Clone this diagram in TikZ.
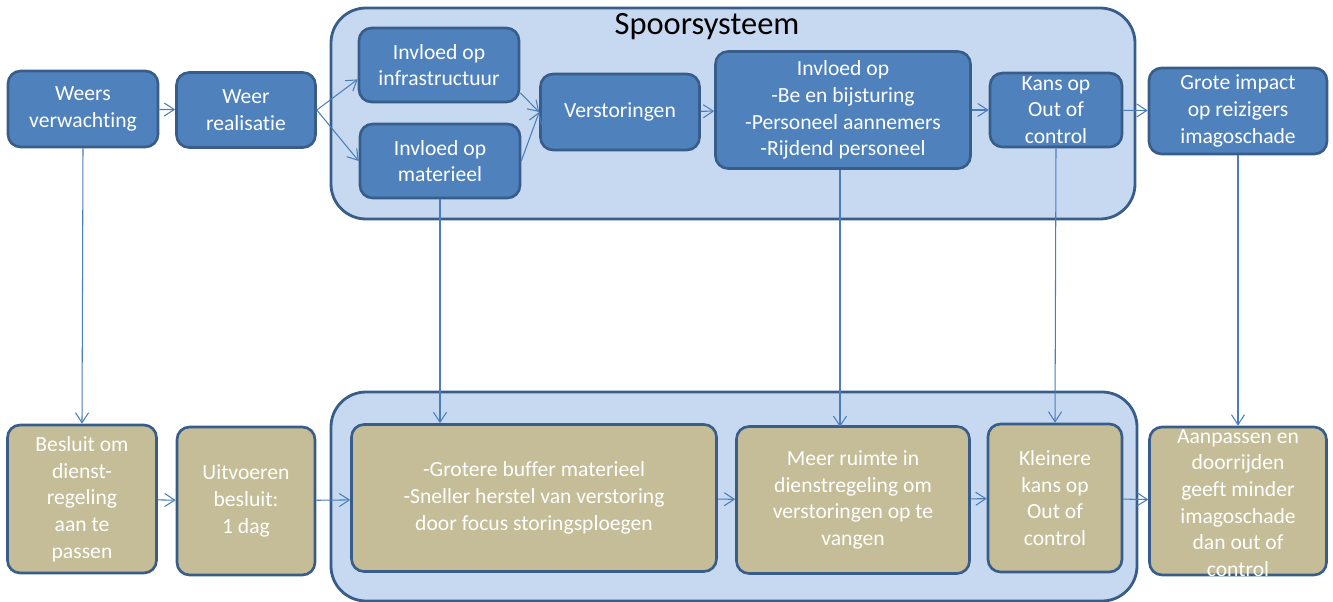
\documentclass[tikz,border=0pt]{standalone}
\usepackage{fontspec}
\setmainfont{Carlito}[Ligatures=NoCommon]
\usetikzlibrary{arrows.meta}

\definecolor{boxblue}{HTML}{4F81BD}
\definecolor{edgeblue}{HTML}{385D8A}
\definecolor{areablue}{HTML}{C6D9F1}
\definecolor{tanfill}{HTML}{C4BD97}
\definecolor{arrowblue}{HTML}{4A7EBB}

\tikzset{
  >={Straight Barb[length=2mm,width=2.6mm]},
  area/.style={draw=edgeblue, fill=areablue, line width=1.6pt, rounded corners=0.7cm},
  bluebox/.style={draw=edgeblue, fill=boxblue, line width=1.5pt, rounded corners=0.25cm,
    text=white, align=center, inner sep=1pt, font=\fontsize{12.3}{15.2}\selectfont},
  tanbox/.style={bluebox, fill=tanfill},
  flow/.style={->, draw=arrowblue, line width=0.6pt},
}

\begin{document}
\begin{tikzpicture}[x=0.02cm, y=-0.02cm]
  \useasboundingbox (0,0) rectangle (1333,602);

  % system areas
  \draw[area] (331,8) rectangle (1135,219);
  \draw[area] (331,392) rectangle (1137,601);
  \node[font=\fontsize{18.5}{22}\selectfont] (title) at (707,27) {Spoorsysteem};

  % top row
  \node[bluebox, minimum width=3cm, minimum height=1.52cm] (weers) at (83,109) {Weers\\verwachting};
  \node[bluebox, minimum width=2.78cm, minimum height=1.5cm] (real) at (246,110) {Weer\\realisatie};
  \node[bluebox, minimum width=3.2cm, minimum height=1.48cm] (infra) at (439,65) {Invloed op\\infrastructuur};
  \node[bluebox, minimum width=3.2cm, minimum height=1.48cm] (mat) at (440,161) {Invloed op\\materieel};
  \node[bluebox, minimum width=3.18cm, minimum height=1.52cm] (verst) at (620,112) {Verstoringen};
  \node[bluebox, minimum width=5.1cm, minimum height=2.34cm] (invl) at (843,110) {Invloed op\\-Be en bijsturing\\-Personeel aannemers\\-Rijdend personeel};
  \node[bluebox, minimum width=2.64cm, minimum height=1.48cm] (kans) at (1056,110) {Kans op\\Out of\\control};
  \node[bluebox, minimum width=3.56cm, minimum height=1.72cm] (grote) at (1238,111) {Grote impact\\op reizigers\\imagoschade};

  % bottom row
  \node[tanbox, minimum width=2.98cm, minimum height=2.96cm] (besl) at (82,499) {Besluit om\\dienst-\\regeling\\aan te\\passen};
  \node[tanbox, minimum width=2.76cm, minimum height=2.96cm] (uitv) at (246,501) {Uitvoeren\\besluit:\\1 dag};
  \node[tanbox, minimum width=7.3cm, minimum height=2.94cm] (buff) at (534,498) {-Grotere buffer materieel\\-Sneller herstel van verstoring\\door focus storingsploegen};
  \node[tanbox, minimum width=4.66cm, minimum height=2.94cm] (ruim) at (853,500) {Meer ruimte in\\dienstregeling om\\verstoringen op te\\vangen};
  \node[tanbox, minimum width=2.68cm, minimum height=2.96cm] (klein) at (1055,498) {Kleinere\\kans op\\Out of\\control};
  \node[tanbox, minimum width=3.54cm, minimum height=2.96cm] (aanp) at (1238,501) {};
  \node[text=white, align=center, font=\fontsize{12.3}{15.2}\selectfont] (aanptxt) at (1238,503) {Aanpassen en\\doorrijden\\geeft minder\\imagoschade\\dan out of\\control};

  % connectors top
  \draw[flow] (weers) -- (real);
  \draw[flow] (real.east) -- (infra.190);
  \draw[flow] (real.east) -- (mat.west);
  \draw[flow] (infra.-19) -- (verst.west);
  \draw[flow] (mat.east) -- (verst.west);
  \draw[flow] (verst) -- (invl);
  \draw[flow] (invl) -- (kans);
  \draw[flow] (kans) -- (grote);

  % connectors down
  \draw[flow] (weers.south) -- (besl.north);
  \draw[flow] (mat.south) -- (mat.south |- buff.north);
  \draw[flow] (invl.south) ++(-3,0) -- (840,427);
  \draw[flow] (kans.south) -- (klein.north);
  \draw[flow] (grote.south) -- (aanp.north);

  % connectors bottom
  \draw[flow] (besl) -- (uitv);
  \draw[flow] (uitv) -- (buff);
  \draw[flow] (buff) -- (ruim);
  \draw[flow] (ruim) -- (klein);
  \draw[flow] (klein) -- (aanp);
\end{tikzpicture}
\end{document}
